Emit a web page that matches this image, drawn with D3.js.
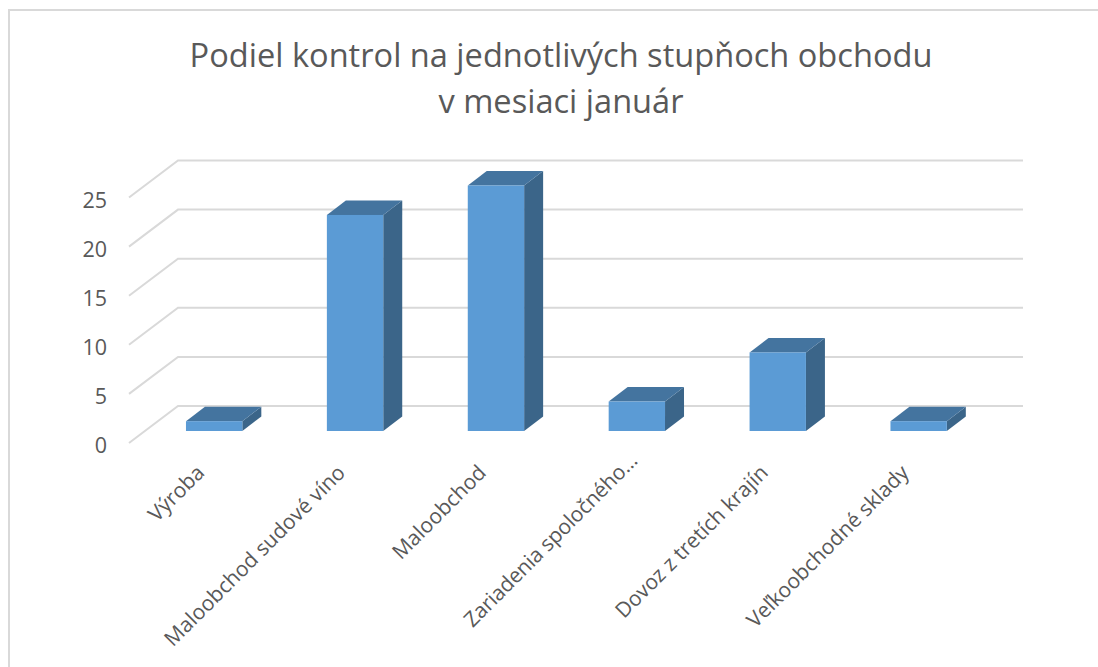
<!DOCTYPE html>
<html>
<head>
<meta charset="utf-8">
<script src="https://cdn.jsdelivr.net/npm/d3@7"></script>
<style>
html, body { margin: 0; padding: 0; background: #fff; }
svg { display: block; }
text { font-family: "Open Sans", sans-serif; fill: #595959; }
</style>
</head>
<body>
<svg id="chart" width="1098" height="667"></svg>
<script>
const categories = ['Výroba', 'Maloobchod sudové víno', 'Maloobchod', 'Zariadenia spoločného…', 'Dovoz z tretích krajín', 'Veľkoobchodné sklady']
const values = [1, 22, 25, 3, 8, 1]
const yTicks = [0, 5, 10, 15, 20, 25]
const titleLines = ['Podiel kontrol na jednotlivých stupňoch obchodu', 'v mesiaci január']

const WALL_DX = 49, WALL_DY = -37
const BAR_DX = 19, BAR_DY = -14.5
const GRID_SHIFT = 12

let svg = d3.select('#chart')

// outer frame, only top and left are on the picture
svg.append('path')
    .attr('d', 'M9,667V10H1098')
    .attr('fill', 'none')
    .attr('stroke', '#d9d9d9')
    .attr('stroke-width', 2)

svg.selectAll('.title').data(titleLines).enter().append('text')
    .attr('class', 'title')
    .attr('x', 561)
    .attr('y', (d, i) => 66.5 + i * 46)
    .attr('text-anchor', 'middle')
    .style('font-size', '32.6px')
    .text(d => d)

// y is measured on the front of the bars, x on the front floor edge
let y = d3.scaleLinear().domain([0, 25]).range([431, 185.5])
let x = d3.scaleBand().domain(categories).range([143.7, 989.1]).paddingInner(0.6).paddingOuter(0.3)

let gy = v => y(v) + GRID_SHIFT
let grid = svg.append('g').attr('stroke', '#d9d9d9').attr('stroke-width', 2).attr('fill', 'none')
grid.selectAll('path').data(yTicks).enter().append('path')
    .attr('d', d => 'M129,' + gy(d) + 'l' + WALL_DX + ',' + WALL_DY + 'H1023')

let yAxis = d3.axisLeft(y.copy().range([y(0) + GRID_SHIFT, y(25) + GRID_SHIFT]))
    .tickValues(yTicks).tickSize(0).tickPadding(0)
let gAxis = svg.append('g').attr('transform', 'translate(107,0)').call(yAxis)
gAxis.select('.domain').remove()
gAxis.selectAll('text').style('font-size', '21.5px').attr('dy', '9.5px')

let bars = svg.selectAll('.bar').data(categories).enter().append('g').attr('class', 'bar')
let bx = d => x(d)
let bw = x.bandwidth()
let by = (d, i) => y(values[i])

bars.append('path').attr('fill', '#3b6589')
    .attr('d', (d, i) => {
        let r = bx(d) + bw
        return 'M' + r + ',' + by(d, i) + 'l' + BAR_DX + ',' + BAR_DY + 'V' + (y(0) + BAR_DY) + 'L' + r + ',' + y(0) + 'Z'
    })
bars.append('path').attr('fill', '#44749f')
    .attr('d', (d, i) => 'M' + bx(d) + ',' + by(d, i) + 'l' + BAR_DX + ',' + BAR_DY + 'h' + bw + 'l' + (-BAR_DX) + ',' + (-BAR_DY) + 'Z')
bars.append('rect').attr('fill', '#5b9bd5')
    .attr('x', d => bx(d))
    .attr('y', (d, i) => by(d, i))
    .attr('width', bw)
    .attr('height', (d, i) => y(0) - by(d, i))

// the cut label sits further along its line and runs tighter than the others
let isCut = d => d.endsWith('…')
let cats = svg.selectAll('.cat').data(categories).enter().append('text')
    .attr('class', 'cat')
    .attr('text-anchor', 'end')
    .attr('transform', d => {
        let c = bx(d) + bw / 2
        return isCut(d) ? 'translate(' + (c + 2) + ',462) rotate(-45)' : 'translate(' + (c - 8.5) + ',474) rotate(-45)'
    })
    .style('font-size', '21px')
    .text(d => d)
cats.filter(isCut).attr('textLength', 235)
</script>
</body>
</html>
